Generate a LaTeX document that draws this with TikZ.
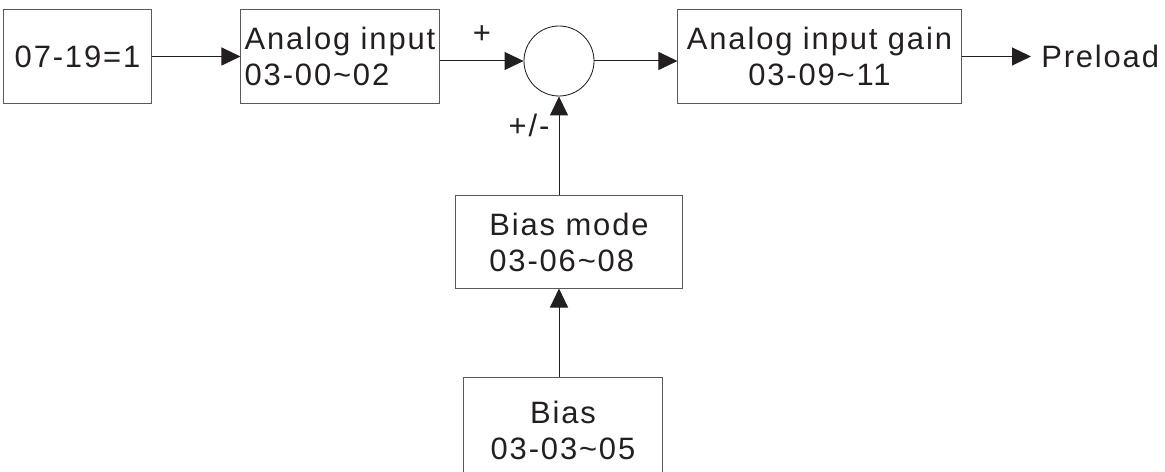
\documentclass[tikz,border=0pt]{standalone}
\usepackage{fontspec}
\setmainfont{Liberation Sans}[LetterSpace=6]
\usetikzlibrary{arrows.meta}
\definecolor{ink}{HTML}{231F20}
\definecolor{frame}{HTML}{58595B}
\tikzset{every node/.style={font=\fontsize{22}{25.6}\selectfont,text=ink},
  block/.style={draw=frame,line width=.7pt,inner sep=0pt},
  junction/.style={circle,draw=ink,line width=.6pt,minimum size=1.75cm,inner sep=0pt},
  flow/.style={-{Triangle[length=.475cm,width=.45cm]},draw=ink,line width=.7pt},
  sign/.style={inner sep=1pt}}
\begin{document}
\begin{tikzpicture}[x=.025cm,y=.025cm]
\useasboundingbox (0,0) rectangle (1165,472);
\clip (0,0) rectangle (1165,472);
% top row
\node[block,minimum width=3.675cm,minimum height=2.325cm] (sel) at (77.5,415.5) {07-19=1};
\node[block,align=left,minimum width=4.95cm,minimum height=2.325cm] (inp) at (340,415.5) {Analog input\\03-00\textasciitilde02};
\node[junction] (sum) at (559,411) {};
\node[block,align=center,minimum width=7.075cm,minimum height=2.325cm] (gain) at (819.5,415.5) {Analog input gain\\03-09\textasciitilde11};
\node[anchor=west,inner xsep=.25cm] (out) at (1031,415.5) {Preload};
% bias branch
\node[block,align=left,minimum width=5.65cm,minimum height=2.3cm] (mode) at (569,230) {Bias mode\\03-06\textasciitilde08};
\node[block,align=center,minimum width=4.95cm,minimum height=2.6cm] (bias) at (563,42) {Bias\\03-03\textasciitilde05};
\node[sign] (plus) at (482,437) {+};
\node[sign] (pm) at (529,347) {+/-};
\draw[flow] (sel) -- (inp);
\draw[flow] (inp.east |- sum) -- (sum);
\draw[flow] (sum) -- (gain.west |- sum);
\draw[flow] (gain) -- (out);
\draw[flow] (mode.north -| sum) -- (sum);
\draw[flow] (bias.north -| sum) -- (mode.south -| sum);
\end{tikzpicture}
\end{document}
